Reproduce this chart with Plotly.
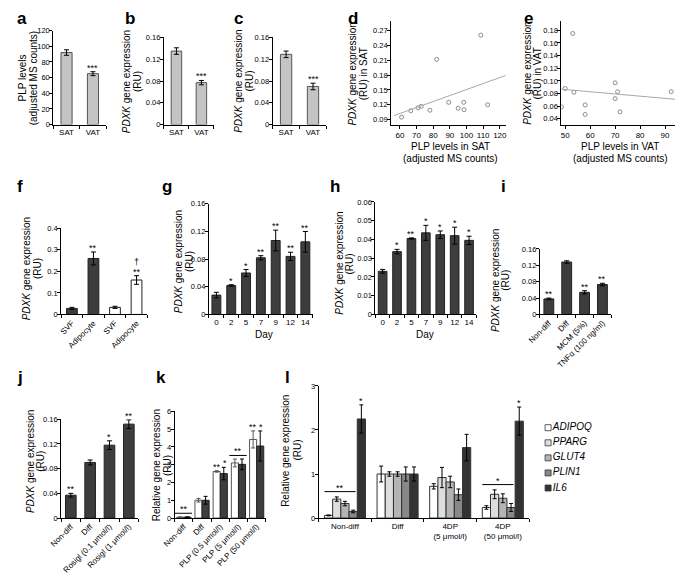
import plotly.graph_objects as go
import numpy as np

W, H = 685, 583            # browser window
OFF = 8                    # default page body margin
FW, FH = W - 2 * OFF, H - 2 * OFF   # figure size so the page is exactly the window size
FONT = "Liberation Sans, Arial, sans-serif"

# ---------------- data ----------------
a_cats = ["SAT", "VAT"]
a_vals = [92, 65]
a_err = [3.5, 2.5]
a_sig = ["", "***"]

b_cats = ["SAT", "VAT"]
b_vals = [0.135, 0.077]
b_err = [0.006, 0.004]
b_sig = ["", "***"]

c_cats = ["SAT", "VAT"]
c_vals = [0.129, 0.070]
c_err = [0.006, 0.006]
c_sig = ["", "***"]

d_plp = [61, 66.5, 70.8, 72.8, 78, 82.1, 89.3, 95, 98.3, 98.5, 108.6, 112.7]
d_pdxk = [0.095, 0.108, 0.114, 0.117, 0.109, 0.212, 0.125, 0.113, 0.125, 0.110, 0.261, 0.120]

e_plp = [48.5, 50, 53, 53.5, 58, 58, 70, 70, 71, 72, 92.5]
e_pdxk = [0.059, 0.088, 0.175, 0.082, 0.062, 0.047, 0.097, 0.072, 0.083, 0.051, 0.083]

f_cats = ["SVF", "Adipocyte", "SVF", "Adipocyte"]
f_vals = [0.028, 0.26, 0.033, 0.16]
f_err = [0.005, 0.03, 0.005, 0.02]
f_sig = ["", "**", "", "**"]
f_dagger = ["", "", "", "†"]

g_days = ["0", "2", "5", "7", "9", "12", "14"]
g_vals = [0.028, 0.042, 0.060, 0.082, 0.107, 0.084, 0.105]
g_err = [0.004, 0.001, 0.005, 0.003, 0.015, 0.006, 0.015]
g_sig = ["", "*", "*", "**", "**", "**", "**"]

h_days = ["0", "2", "5", "7", "9", "12", "14"]
h_vals = [0.023, 0.0335, 0.0405, 0.0435, 0.0425, 0.042, 0.0395]
h_err = [0.001, 0.0012, 0.0003, 0.004, 0.002, 0.0045, 0.0022]
h_sig = ["", "*", "**", "*", "*", "*", "*"]

i_cats = ["Non-diff", "Diff", "MCM (5%)", "TNFα (100 ng/ml)"]
i_vals = [0.038, 0.128, 0.054, 0.073]
i_err = [0.002, 0.003, 0.004, 0.003]
i_sig = ["**", "", "**", "**"]

j_cats = ["Non-diff", "Diff", "Rosigl (0.1 μmol/l)", "Rosigl (1 μmol/l)"]
j_vals = [0.037, 0.090, 0.118, 0.152]
j_err = [0.003, 0.004, 0.007, 0.007]
j_sig = ["**", "", "*", "**"]

k_cats = ["Non-diff", "Diff", "PLP (0.5 μmol/l)", "PLP (5 μmol/l)", "PLP (50 μmol/l)"]
k_white = [0.05, 1.0, 2.62, 3.1, 4.42]
k_white_err = [0.02, 0.1, 0.04, 0.22, 0.48]
k_dark = [0.05, 1.0, 2.5, 3.02, 4.05]
k_dark_err = [0.02, 0.22, 0.35, 0.3, 0.85]
k_white_sig = ["", "", "**", "", "**"]
k_dark_sig = ["", "", "*", "", "*"]
k_group_sig = ["**", "", "", "**", ""]

l_cats = ["Non-diff", "Diff", "4DP<br>(5 μmol/l)", "4DP<br>(50 μmol/l)"]
l_genes = ["ADIPOQ", "PPARG", "GLUT4", "PLIN1", "IL6"]
l_ADIPOQ = [0.06, 1.0, 0.72, 0.24]
l_ADIPOQ_err = [0.01, 0.18, 0.06, 0.04]
l_PPARG = [0.43, 1.0, 0.92, 0.54]
l_PPARG_err = [0.05, 0.05, 0.23, 0.10]
l_GLUT4 = [0.33, 1.0, 0.82, 0.45]
l_GLUT4_err = [0.05, 0.05, 0.13, 0.10]
l_PLIN1 = [0.15, 1.0, 0.53, 0.24]
l_PLIN1_err = [0.03, 0.16, 0.13, 0.09]
l_IL6 = [2.25, 1.0, 1.6, 2.2]
l_IL6_err = [0.32, 0.16, 0.30, 0.32]
l_group_sig = ["**", "", "", "*"]
l_il6_sig = ["*", "", "", "*"]

# ---------------- styles ----------------
LIGHT = "#c4c4c4"
DARK = "#3d3d3d"
EDGE = "#222222"
GENE_COLORS = ["#ffffff", "#dedede", "#b4b4b4", "#888888", "#333333"]
TICK = 7.5
TITLE = 10

fig = go.Figure()
layout = {}
annotations = []
shapes = []


def PX(v):
    return (v - OFF) / FW


def PY(v):
    return 1 - (v - OFF) / FH


def ax_name(n):
    return "" if n == 1 else str(n)


def add_axes(n, xd, yd, xr, yr, ydtick=None, bar_labels=None, tickangle=0, xdtick=None, xfont=8):
    s = ax_name(n)
    base = dict(showline=True, linecolor="black", linewidth=1, ticks="outside",
                ticklen=3, tickwidth=1, tickcolor="black", showgrid=False,
                zeroline=False, tickfont=dict(size=TICK, color="black", family=FONT))
    xa = dict(base, domain=[PX(xd[0]), PX(xd[1])], range=xr, anchor="y" + s,
              tickangle=tickangle, tickfont=dict(size=xfont, color="black", family=FONT))
    ya = dict(base, domain=[PY(yd[1]), PY(yd[0])], range=yr, anchor="x" + s,
              ticklabelstandoff=-2)
    if ydtick is not None:
        ya.update(tickmode="linear", tick0=0, dtick=ydtick)
    if xdtick is not None:
        xa.update(tickmode="linear", tick0=0, dtick=xdtick)
    if bar_labels is not None:
        n_c = len(bar_labels)
        xa.update(tickmode="array", tickvals=list(range(n_c)), ticktext=bar_labels,
                  ticks="",
                  minor=dict(ticks="outside", ticklen=3, tickcolor="black", tickwidth=1,
                             tickmode="array", tickvals=[i - 0.5 for i in range(n_c + 1)]))
    layout["xaxis" + s] = xa
    layout["yaxis" + s] = ya


def star(xv, yv, t, s, shift=-3):
    annotations.append(dict(x=xv, y=yv, xref="x" + s, yref="y" + s, text=t,
                            showarrow=False, yanchor="bottom", yshift=shift,
                            font=dict(size=9, family=FONT, color="black")))


def bar_panel(n, vals, err, color, edge, width, sig=None):
    s = ax_name(n)
    fig.add_trace(go.Bar(x=list(range(len(vals))), y=vals, width=width,
                         marker=dict(color=color, line=dict(color=edge, width=1)),
                         error_y=dict(type="data", array=err, color="black", thickness=1, width=2.5),
                         xaxis="x" + s, yaxis="y" + s, showlegend=False))
    if sig:
        for i, t in enumerate(sig):
            if t:
                star(i, vals[i] + err[i], t, s)


def text(x, y, t, size=TITLE, angle=0, bold=False, xanchor="center", yanchor="middle"):
    if bold:
        t = "<b>" + t + "</b>"
    annotations.append(dict(x=PX(x), y=PY(y), xref="paper", yref="paper", text=t,
                            showarrow=False, textangle=angle, xanchor=xanchor, yanchor=yanchor,
                            font=dict(size=size, family=FONT, color="black")))


def vtitle(lines, xs, yc, size=TITLE):
    for t, x in zip(lines, xs):
        text(x, yc, t, size=size, angle=-90)


PDXK = ["<i>PDXK</i> gene expression", "(RU)"]

# ---- a ----
add_axes(1, (41, 95), (27, 123), [-0.5, 1.5], [0, 120], ydtick=20, bar_labels=a_cats)
bar_panel(1, a_vals, a_err, LIGHT, "#555555", 0.42, a_sig)
vtitle(["PLP levels", "(adjusted MS counts)"], [10, 21], 75)
# ---- b ----
add_axes(2, (154, 205), (34, 123), [-0.5, 1.5], [0, 0.16], ydtick=0.04, bar_labels=b_cats)
bar_panel(2, b_vals, b_err, LIGHT, "#555555", 0.42, b_sig)
vtitle(PDXK, [116, 127], 79)
# ---- c ----
add_axes(3, (265, 320), (34, 123), [-0.5, 1.5], [0, 0.16], ydtick=0.04, bar_labels=c_cats)
bar_panel(3, c_vals, c_err, LIGHT, "#555555", 0.42, c_sig)
vtitle(PDXK, [230, 241], 79)

# ---- d ----
add_axes(4, (386, 503), (17, 123), [54.7, 123.5], [0.080, 0.290], ydtick=0.03, xdtick=10)
layout["yaxis4"].update(tick0=0.09, tickformat=".2f")
fig.add_trace(go.Scatter(x=d_plp, y=d_pdxk, mode="markers",
                         marker=dict(symbol="circle-open", size=4, color="#808080", line=dict(width=0.9)),
                         xaxis="x4", yaxis="y4", showlegend=False))
kd, bd = np.polyfit(d_plp, d_pdxk, 1)
dx = np.array([56.5, 123.5])
fig.add_trace(go.Scatter(x=dx, y=kd * dx + bd, mode="lines", line=dict(color="#a8a8a8", width=1),
                         xaxis="x4", yaxis="y4", showlegend=False))
vtitle(["<i>PDXK</i> gene expression", "(RU) in SAT"], [347, 358], 71)
text(447, 145, "PLP levels in SAT")
text(447, 158, "(adjusted MS counts)")

# ---- e ----
add_axes(5, (560, 676), (17, 123), [48.5, 94.0], [0.031, 0.195], ydtick=0.02, xdtick=10)
layout["yaxis5"].update(tick0=0.04, tickformat=".2f")
fig.add_trace(go.Scatter(x=e_plp, y=e_pdxk, mode="markers",
                         marker=dict(symbol="circle-open", size=4, color="#808080", line=dict(width=0.9)),
                         xaxis="x5", yaxis="y5", showlegend=False))
ke, be = np.polyfit(e_plp, e_pdxk, 1)
ex = np.array([48.5, 94.0])
fig.add_trace(go.Scatter(x=ex, y=ke * ex + be, mode="lines", line=dict(color="#a8a8a8", width=1),
                         xaxis="x5", yaxis="y5", showlegend=False))
vtitle(["<i>PDXK</i> gene expression", "(RU) in VAT"], [525, 536], 71)
text(620, 145, "PLP levels in VAT")
text(620, 158, "(adjusted MS counts)")

# ---- f ----
add_axes(6, (49, 137), (229, 317), [-0.5, 3.5], [0, 0.4], ydtick=0.1, bar_labels=f_cats,
         tickangle=-45)
f_colors = [DARK, DARK, "#ffffff", "#ffffff"]
fig.add_trace(go.Bar(x=list(range(4)), y=f_vals, width=0.5,
                     marker=dict(color=f_colors, line=dict(color=EDGE, width=1)),
                     error_y=dict(type="data", array=f_err, color="black", thickness=1, width=2.5),
                     xaxis="x6", yaxis="y6", showlegend=False))
for i, t in enumerate(f_sig):
    if t:
        star(i, f_vals[i] + f_err[i], t, "6")
for i, t in enumerate(f_dagger):
    if t:
        star(i, f_vals[i] + f_err[i], t, "6", shift=7)
vtitle(PDXK, [14, 25], 270)

# ---- g ----
add_axes(7, (200, 306), (204, 317), [-0.5, 6.5], [0, 0.16], ydtick=0.04, bar_labels=g_days)
bar_panel(7, g_vals, g_err, DARK, EDGE, 0.6, g_sig)
vtitle(PDXK, [169, 180], 263)
text(256, 337, "Day")

# ---- h ----
add_axes(8, (370, 473), (202, 317), [-0.5, 6.5], [0, 0.06], ydtick=0.01, bar_labels=h_days)
bar_panel(8, h_vals, h_err, DARK, EDGE, 0.6, h_sig)
vtitle(PDXK, [333, 344], 265)
text(421, 337, "Day")

# ---- i ----
add_axes(9, (538, 611), (250, 317), [-0.5, 3.5], [0, 0.16], ydtick=0.04, bar_labels=i_cats,
         tickangle=-45)
bar_panel(9, i_vals, i_err, DARK, EDGE, 0.55, i_sig)
vtitle(PDXK, [492, 503], 282)

# ---- j ----
add_axes(10, (49, 128), (424, 525), [-0.5, 3.5], [0, 0.16], ydtick=0.04, bar_labels=j_cats,
         tickangle=-45)
bar_panel(10, j_vals, j_err, DARK, EDGE, 0.55, j_sig)
vtitle(PDXK, [17, 28], 467)

# ---- k ----
add_axes(11, (165, 258), (416, 525), [-0.5, 4.5], [0, 6], ydtick=1, bar_labels=k_cats,
         tickangle=-45)
kx = list(range(len(k_cats)))
fig.add_trace(go.Bar(x=kx, y=k_white, marker=dict(color="#ffffff", line=dict(color="#555555", width=1)),
                     error_y=dict(type="data", array=k_white_err, color="#555555", thickness=1, width=2),
                     xaxis="x11", yaxis="y11", showlegend=False, offsetgroup="kw"))
fig.add_trace(go.Bar(x=kx, y=k_dark, marker=dict(color=DARK, line=dict(color=EDGE, width=1)),
                     error_y=dict(type="data", array=k_dark_err, color="black", thickness=1, width=2),
                     xaxis="x11", yaxis="y11", showlegend=False, offsetgroup="kd"))
kw = (1 - 0.22) / 2
for i in kx:
    if k_white_sig[i]:
        star(i - kw / 2, k_white[i] + k_white_err[i], k_white_sig[i], "11")
    if k_dark_sig[i]:
        star(i + kw / 2 + 0.05, k_dark[i] + k_dark_err[i], k_dark_sig[i], "11")
    if k_group_sig[i]:
        top = max(k_white[i] + k_white_err[i], k_dark[i] + k_dark_err[i]) + 0.2
        shapes.append(dict(type="line", xref="x11", yref="y11", x0=i - 0.5, x1=i + 0.45, y0=top, y1=top,
                           line=dict(color="black", width=1)))
        star(i, top, k_group_sig[i], "11")
vtitle(["Relative gene expression", "(RU)"], [146, 157], 471)

# ---- l ----
add_axes(12, (312, 527), (390, 525), [-0.5, 3.5], [0, 3], ydtick=1, bar_labels=l_cats)
lx = list(range(len(l_cats)))
l_series = [l_ADIPOQ, l_PPARG, l_GLUT4, l_PLIN1, l_IL6]
l_errs = [l_ADIPOQ_err, l_PPARG_err, l_GLUT4_err, l_PLIN1_err, l_IL6_err]
for g, vals, err, col in zip(l_genes, l_series, l_errs, GENE_COLORS):
    fig.add_trace(go.Bar(x=lx, y=vals, name=g,
                         marker=dict(color=col, line=dict(color="#333333", width=1)),
                         error_y=dict(type="data", array=err, color="black", thickness=1, width=2),
                         xaxis="x12", yaxis="y12", showlegend=False))
lw = (1 - 0.22) / 5
for i in lx:
    if l_group_sig[i]:
        top = max(s[i] + e[i] for s, e in zip(l_series[:4], l_errs[:4])) + 0.12
        shapes.append(dict(type="line", xref="x12", yref="y12", x0=i - 0.39, x1=i + 0.39 - lw * 1.2,
                           y0=top, y1=top, line=dict(color="black", width=1)))
        star(i - 0.39 + (0.78 - lw * 1.2) / 2, top, l_group_sig[i], "12")
    if l_il6_sig[i]:
        star(i + 2 * lw, l_IL6[i] + l_IL6_err[i], l_il6_sig[i], "12")
vtitle(["Relative gene expression", "(RU)"], [278, 290], 456)

# ---- legend of l (marker key drawn on its own hidden axes) ----
layout["xaxis13"] = dict(domain=[PX(540), PX(610)], range=[-0.1, 1], visible=False, anchor="y13")
layout["yaxis13"] = dict(domain=[PY(502), PY(425)], range=[len(l_genes) - 0.5, -0.5],
                         visible=False, anchor="x13")
fig.add_trace(go.Scatter(x=[0] * len(l_genes), y=list(range(len(l_genes))), mode="markers+text",
                         text=["<i>" + g + "</i>" for g in l_genes], textposition="middle right",
                         textfont=dict(size=10, family=FONT, color="black"),
                         marker=dict(symbol="square", size=6, color=GENE_COLORS,
                                     line=dict(color="#333333", width=0.8)),
                         xaxis="x13", yaxis="y13", showlegend=False, hoverinfo="skip"))

# ---- panel letters ----
letters = [("a", 2, 15), ("b", 112, 15), ("c", 223, 15), ("d", 340, 15), ("e", 520, 15),
           ("f", 2, 186), ("g", 150, 186), ("h", 322, 186), ("i", 496, 186),
           ("j", 2, 381), ("k", 144, 381), ("l", 276, 381)]
for t, x, y in letters:
    text(x, y, t, size=17, bold=True, xanchor="left")

layout.update(
    width=FW, height=FH, margin=dict(l=0, r=0, t=0, b=0, pad=0),
    paper_bgcolor="white", plot_bgcolor="white",
    barmode="group", bargap=0.22, bargroupgap=0,
    font=dict(family=FONT, size=10, color="black"),
    annotations=annotations, shapes=shapes, showlegend=False,
)
fig.update_layout(**layout)
fig.write_html("out.html")
